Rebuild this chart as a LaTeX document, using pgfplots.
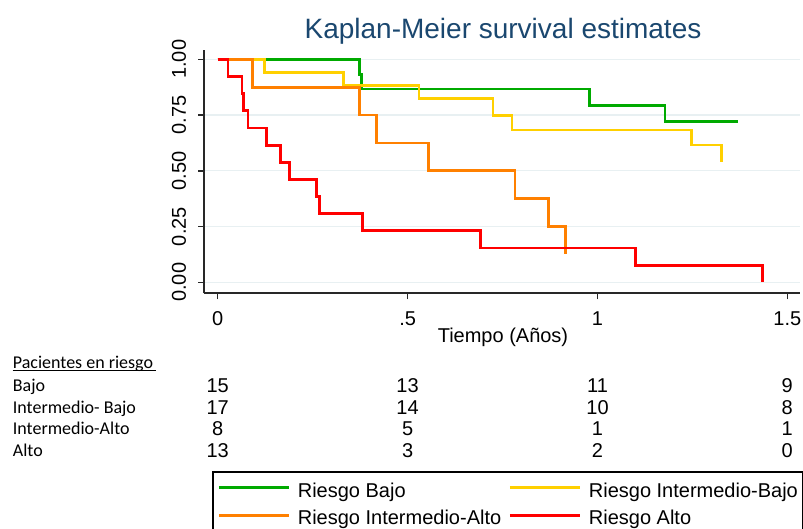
\documentclass[border=0pt]{standalone}
\usepackage{fontspec}
\setmainfont{Liberation Sans}
\newfontfamily\calibri{Carlito}
\usepackage{pgfplots}
\pgfplotsset{compat=1.18}

\definecolor{kmgreen}{RGB}{0,170,0}
\definecolor{kmyellow}{RGB}{255,208,0}
\definecolor{kmorange}{RGB}{255,128,0}
\definecolor{kmred}{RGB}{255,0,0}
\definecolor{titlec}{RGB}{26,71,111}
\definecolor{gridc}{RGB}{232,240,242}
\definecolor{axisc}{RGB}{40,40,40}

\newcommand{\ft}{\fontsize{20pt}{24pt}\selectfont}
\newcommand{\fc}{\calibri\fontsize{18pt}{22pt}\selectfont}

\begin{document}
\begin{tikzpicture}
\useasboundingbox (0pt,0pt) rectangle (803pt,-529pt);

\begin{axis}[
  at={(204.3pt,-293.3pt)}, anchor=south west,
  scale only axis, width=595.2pt, height=243.4pt,
  xmin=-0.0353, xmax=1.532, ymin=-0.0493, ymax=1.042,
  axis x line*=bottom, axis y line*=left,
  axis line style={-, line width=1.8pt, color=axisc},
  xtick={0,0.5,1,1.5}, xticklabels={0,.5,1,1.5},
  ytick={0,0.25,0.5,0.75,1}, yticklabels={0.00,0.25,0.50,0.75,1.00},
  tick align=outside, major tick length=6pt,
  tick style={line width=1.5pt, color=axisc},
  ymajorgrids, grid style={line width=1.2pt, color=gridc},
  ticklabel style={font=\ft, inner sep=0pt},
  yticklabel style={rotate=90, anchor=south},
  xticklabel style={anchor=north},
  yticklabel shift=12pt,
  xticklabel shift=12pt,
  xlabel={Tiempo (Años)},
  xlabel style={font=\ft, at={(axis description cs:0.5018,-0.2001)}, anchor=base},
  every axis plot/.append style={line width=2.8pt, line join=miter},
  legend columns=2,
  legend cell align=left,
  legend image code/.code={\path (-3.2pt,0.3em) -- (67pt,0.3em); \draw[#1] (0pt,0.3em) -- (67pt,0.3em);},
  legend style={at={(axis description cs:0.01344,-0.7301)}, anchor=north west,
    draw=black, line width=1.5pt, font=\ft,
    inner xsep=4.5pt, inner ysep=11pt,
    nodes={inner sep=0pt},
    column sep=7.3pt, row sep=11.5pt},
]
% Riesgo Bajo
\addplot[const plot, kmgreen] coordinates {
  (0,1) (0.374,0.933) (0.378,0.867) (0.979,0.794) (1.178,0.722) (1.371,0.722)
};
\addlegendentry{Riesgo Bajo}
% Riesgo Intermedio-Bajo
\addplot[const plot, kmyellow] coordinates {
  (0,1) (0.124,0.941) (0.332,0.882) (0.530,0.824) (0.725,0.749)
  (0.775,0.683) (1.247,0.616) (1.327,0.539)
};
\addlegendentry{Riesgo Intermedio-Bajo}
% Riesgo Intermedio-Alto
\addplot[const plot, kmorange] coordinates {
  (0,1) (0.091,0.875) (0.374,0.750) (0.418,0.625) (0.556,0.500)
  (0.783,0.375) (0.872,0.250) (0.915,0.125)
};
\addlegendentry{Riesgo Intermedio-Alto}
% Riesgo Alto
\addplot[const plot, kmred] coordinates {
  (0,1) (0.027,0.923) (0.064,0.846) (0.068,0.769) (0.080,0.692)
  (0.128,0.615) (0.166,0.538) (0.189,0.462) (0.260,0.385) (0.267,0.308)
  (0.382,0.231) (0.691,0.154) (1.100,0.077) (1.435,0.000)
};
\addlegendentry{Riesgo Alto}
\end{axis}

% title
\node[anchor=base, text=titlec, font=\fontsize{28pt}{32pt}\selectfont]
  at (503pt,-39pt) {Kaplan-Meier survival estimates};

% number at risk table
\node[anchor=base west, inner sep=0pt, font=\fc] at (12.7pt,-368.5pt) {Pacientes en riesgo};
\draw[line width=1pt] (12.7pt,-370.8pt) -- (155.5pt,-370.8pt);
\foreach \lab/\yy in {Bajo/391.5, Intermedio- Bajo/413.2, Intermedio-Alto/434.9, Alto/456.6}
  \node[anchor=base west, inner sep=0pt, font=\fc] at (12.7pt,-\yy pt) {\lab};

\foreach \a/\b/\c/\d/\yy in {15/13/11/9/392.5, 17/14/10/8/414.2, 8/5/1/1/435.9, 13/3/2/0/457.6}{
  \node[anchor=base, inner sep=0pt, font=\ft] at (217.7pt,-\yy pt) {\a};
  \node[anchor=base, inner sep=0pt, font=\ft] at (407.6pt,-\yy pt) {\b};
  \node[anchor=base, inner sep=0pt, font=\ft] at (597.5pt,-\yy pt) {\c};
  \node[anchor=base, inner sep=0pt, font=\ft] at (787.3pt,-\yy pt) {\d};
}
\end{tikzpicture}
\end{document}
